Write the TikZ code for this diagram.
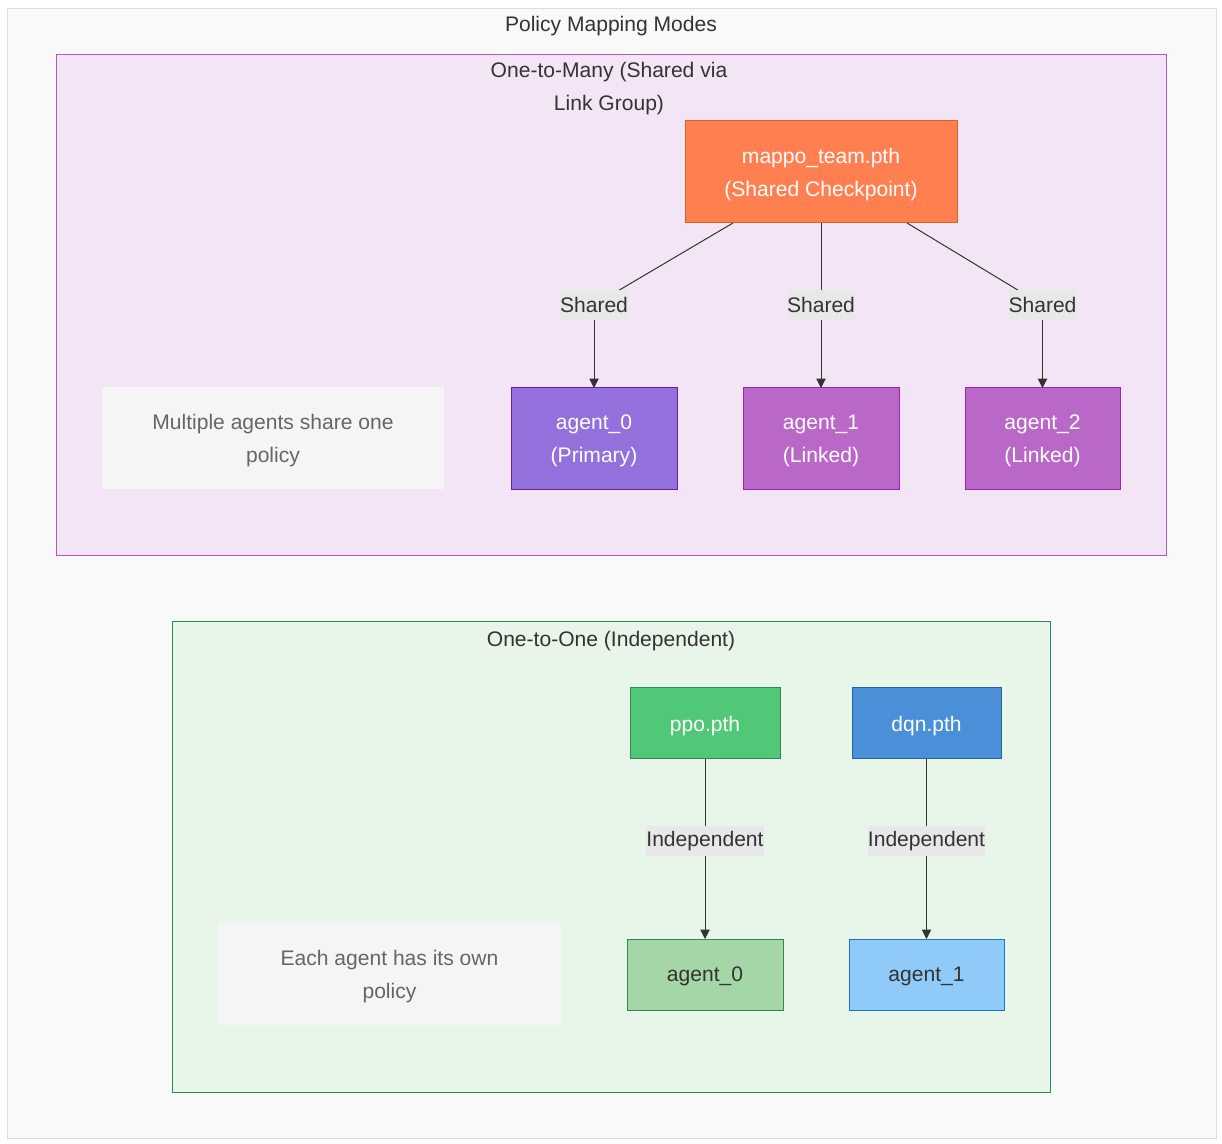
\documentclass[tikz,border=0pt]{standalone}
\usepackage{fontspec}
\setmainfont{Liberation Sans}
\usetikzlibrary{arrows.meta}
\definecolor{outerfill}{HTML}{F9F9F9}
\definecolor{outerdraw}{HTML}{DDDDDD}
\definecolor{purpfill}{HTML}{F3E5F5}
\definecolor{purpdraw}{HTML}{B455C8}
\definecolor{greenfill}{HTML}{E8F5E9}
\definecolor{greendraw}{HTML}{2E8B57}
\definecolor{coral}{HTML}{FF7F50}
\definecolor{coraldraw}{HTML}{D9621F}
\definecolor{primfill}{HTML}{9370DB}
\definecolor{primdraw}{HTML}{6A1BB0}
\definecolor{linkfill}{HTML}{BA68C8}
\definecolor{linkdraw}{HTML}{9C27B0}
\definecolor{ppofill}{HTML}{50C878}
\definecolor{dqnfill}{HTML}{4A90D9}
\definecolor{dqndraw}{HTML}{2C5F9E}
\definecolor{g0fill}{HTML}{A5D6A7}
\definecolor{g1fill}{HTML}{90CAF9}
\definecolor{g1draw}{HTML}{1976D2}
\definecolor{notefill}{HTML}{F5F5F5}
\definecolor{notetext}{HTML}{666666}
\definecolor{labfill}{HTML}{E8E8E8}
\definecolor{dark}{HTML}{333333}
\tikzset{
  sz/.style 2 args={minimum width=#1*0.75pt, minimum height=#2*0.75pt},
  base/.style={inner sep=0pt, outer sep=0pt, align=center, font=\fontsize{15.8}{24.75}\selectfont},
  frame/.style={base, line width=0.75pt},
  box/.style={base, line width=0.75pt, text depth=0pt},
  note/.style={base, fill=notefill, text=notetext, text depth=0pt},
  elab/.style={base, fill=labfill, text=dark, inner xsep=0pt, minimum height=30*0.75pt},
  title/.style={base, text=dark, text depth=0pt},
  conn/.style={draw=dark, line width=0.75pt},
  arr/.style={conn, -{Triangle[length=7pt,width=7pt]}},
}
\begin{document}
\begin{tikzpicture}[x=0.75pt,y=-0.75pt]
\useasboundingbox (0,0) rectangle (1222,1144);
% frames
\node[frame, sz={1209}{1129}, fill=outerfill, draw=outerdraw] (outer) at (611.5,573.5) {};
\node[title] (outert) at (611,23.5) {Policy Mapping Modes};
\node[frame, sz={1110}{501}, fill=purpfill, draw=purpdraw] (purp) at (611,305.5) {};
\node[title] (purpt) at (609,86.5) {One-to-Many (Shared via\\Link Group)};
\node[frame, sz={878}{470}, fill=greenfill, draw=greendraw] (green) at (611,857) {};
\node[title] (greent) at (611,638.5) {One-to-One (Independent)};
% top cluster nodes
\node[box, sz={272}{102}, fill=coral, draw=coraldraw, text=white] (mappo) at (821,172) {mappo\_team.pth\\(Shared Checkpoint)};
\node[box, sz={166}{102}, fill=primfill, draw=primdraw, text=white] (a0) at (594,439) {agent\_0\\(Primary)};
\node[box, sz={156}{102}, fill=linkfill, draw=linkdraw, text=white] (a1) at (821,439) {agent\_1\\(Linked)};
\node[box, sz={155}{102}, fill=linkfill, draw=linkdraw, text=white] (a2) at (1042.5,439) {agent\_2\\(Linked)};
\node[note, sz={342}{102}] (note1) at (273,438.5) {Multiple agents share one\\policy};
\coordinate (m0) at (733,223);
\coordinate (m2) at (907,223);
\coordinate (l0c) at (594,305);
\coordinate (l1c) at (821,305);
\coordinate (l2c) at (1042.5,305);
\draw[conn] (m0) -- (l0c);
\draw[arr] (l0c) -- (a0.north);
\draw[arr] (mappo.south) -- (a1.north);
\draw[conn] (m2) -- (l2c);
\draw[arr] (l2c) -- (a2.north);
\node[elab, minimum width=68*0.75pt] (l0) at (l0c) {Shared};
\node[elab, minimum width=68*0.75pt] (l1) at (l1c) {Shared};
\node[elab, minimum width=68*0.75pt] (l2) at (l2c) {Shared};
% bottom cluster nodes
\node[box, sz={150}{71}, fill=ppofill, draw=greendraw, text=white] (ppo) at (705,723.5) {ppo.pth};
\node[box, sz={149}{71}, fill=dqnfill, draw=dqndraw, text=white] (dqn) at (926.5,723.5) {dqn.pth};
\node[box, sz={156}{71}, fill=g0fill, draw=greendraw, text=dark] (g0) at (705,974.5) {agent\_0};
\node[box, sz={155}{71}, fill=g1fill, draw=g1draw, text=dark] (g1) at (926.5,974.5) {agent\_1};
\node[note, sz={343}{102}] (note2) at (389.5,974) {Each agent has its own\\policy};
\draw[arr] (ppo.south) -- (g0.north);
\draw[arr] (dqn.south) -- (g1.north);
\node[elab, minimum width=118*0.75pt] (i0) at (705,841) {Independent};
\node[elab, minimum width=117*0.75pt] (i1) at (926.5,841) {Independent};
\end{tikzpicture}
\end{document}
